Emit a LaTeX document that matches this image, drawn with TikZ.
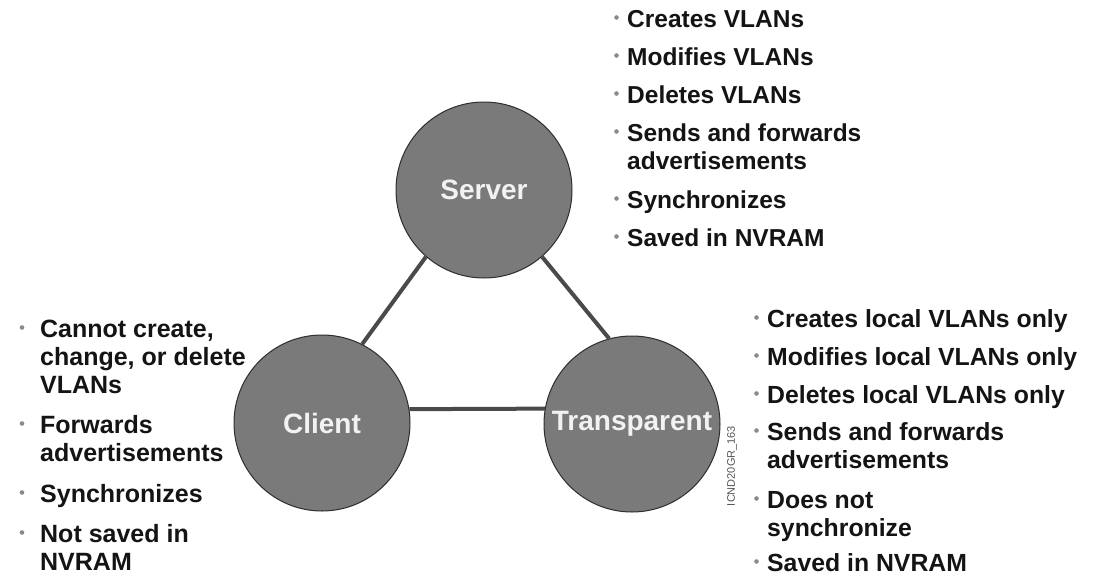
\documentclass[tikz,border=0pt]{standalone}
\usepackage{fontspec}
\setmainfont{Liberation Sans}
\definecolor{circfill}{HTML}{7A7A7A}
\definecolor{circedge}{HTML}{2E2E2E}
\definecolor{circtext}{HTML}{F2F2F2}
\definecolor{linkc}{HTML}{4A4A4A}
\definecolor{txt}{HTML}{141414}
\definecolor{bulc}{HTML}{8A8A8A}
\definecolor{codec}{HTML}{555555}
\newcommand{\itemlines}[1]{\begin{tabular}[t]{@{}l@{}}#1\end{tabular}}
\begin{document}
\begin{tikzpicture}[x=1pt,y=-1pt,
  mode/.style={circle, draw=circedge, line width=1pt, fill=circfill,
    minimum size=176pt, inner sep=0pt, text=circtext,
    font=\fontsize{28}{28}\selectfont\bfseries},
  link/.style={draw=linkc, line width=4pt},
  itemA/.style={anchor=base west, inner sep=0pt, text=txt,
    font=\fontsize{24.5}{28.5}\selectfont\bfseries},
  itemB/.style={itemA, font=\fontsize{24.8}{28.3}\selectfont\bfseries},
  itemC/.style={itemA, font=\fontsize{25}{28}\selectfont\bfseries},
  bul/.style={fill=bulc},
  code/.style={rotate=90, inner sep=0pt, text=codec,
    font=\fontsize{11}{11}\selectfont}
]
\useasboundingbox (0,0) rectangle (1104,576);
\fill[white] (0,0) rectangle (1104,576);

% modes
\node[mode] (server) at (484,190) {Server};
\node[mode] (client) at (322,423) {Client};
\node[mode] (transp) at (632,424) {Transparent};

% links
\draw[link] (server.229) -- (client.63);
\draw[link] (server.311) -- (transp.105);
\draw[link] (client.9) -- (transp.170);

% server list
\node[itemA] (s1) at (627,27) {Creates VLANs};
\node[itemA] (s2) at (627,65) {Modifies VLANs};
\node[itemA] (s3) at (627,103) {Deletes VLANs};
\node[itemA] (s4) at (627,141) {\itemlines{Sends and forwards\\advertisements}};
\node[itemA] (s5) at (627,208) {Synchronizes};
\node[itemA] (s6) at (627,246) {Saved in NVRAM};

% transparent list
\node[itemB] (t1) at (767,327) {Creates local VLANs only};
\node[itemB] (t2) at (767,365) {Modifies local VLANs only};
\node[itemB] (t3) at (767,403) {Deletes local VLANs only};
\node[itemB] (t4) at (767,440) {\itemlines{Sends and forwards\\advertisements}};
\node[itemB] (t5) at (767,508) {\itemlines{Does not\\synchronize}};
\node[itemB] (t6) at (767,571) {Saved in NVRAM};

% client list
\node[itemC] (c1) at (40,337) {\itemlines{Cannot create,\\change, or delete\\VLANs}};
\node[itemC] (c2) at (40,433) {\itemlines{Forwards\\advertisements}};
\node[itemC] (c3) at (40,502) {Synchronizes};
\node[itemC] (c4) at (40,542) {\itemlines{Not saved in\\NVRAM}};

% bullets
\foreach \n in {s1,s2,s3,s4,s5,s6,t1,t2,t3,t4,t5,t6}
  \fill[bul] ([xshift=-10.5pt,yshift=9.5pt]\n.base west) circle (2.3pt);
\foreach \n in {c1,c2,c3,c4}
  \fill[bul] ([xshift=-18pt,yshift=9.5pt]\n.base west) circle (2.3pt);

% figure code
\node[code] (figcode) at (732,466) {ICND20GR\_163};
\end{tikzpicture}
\end{document}
